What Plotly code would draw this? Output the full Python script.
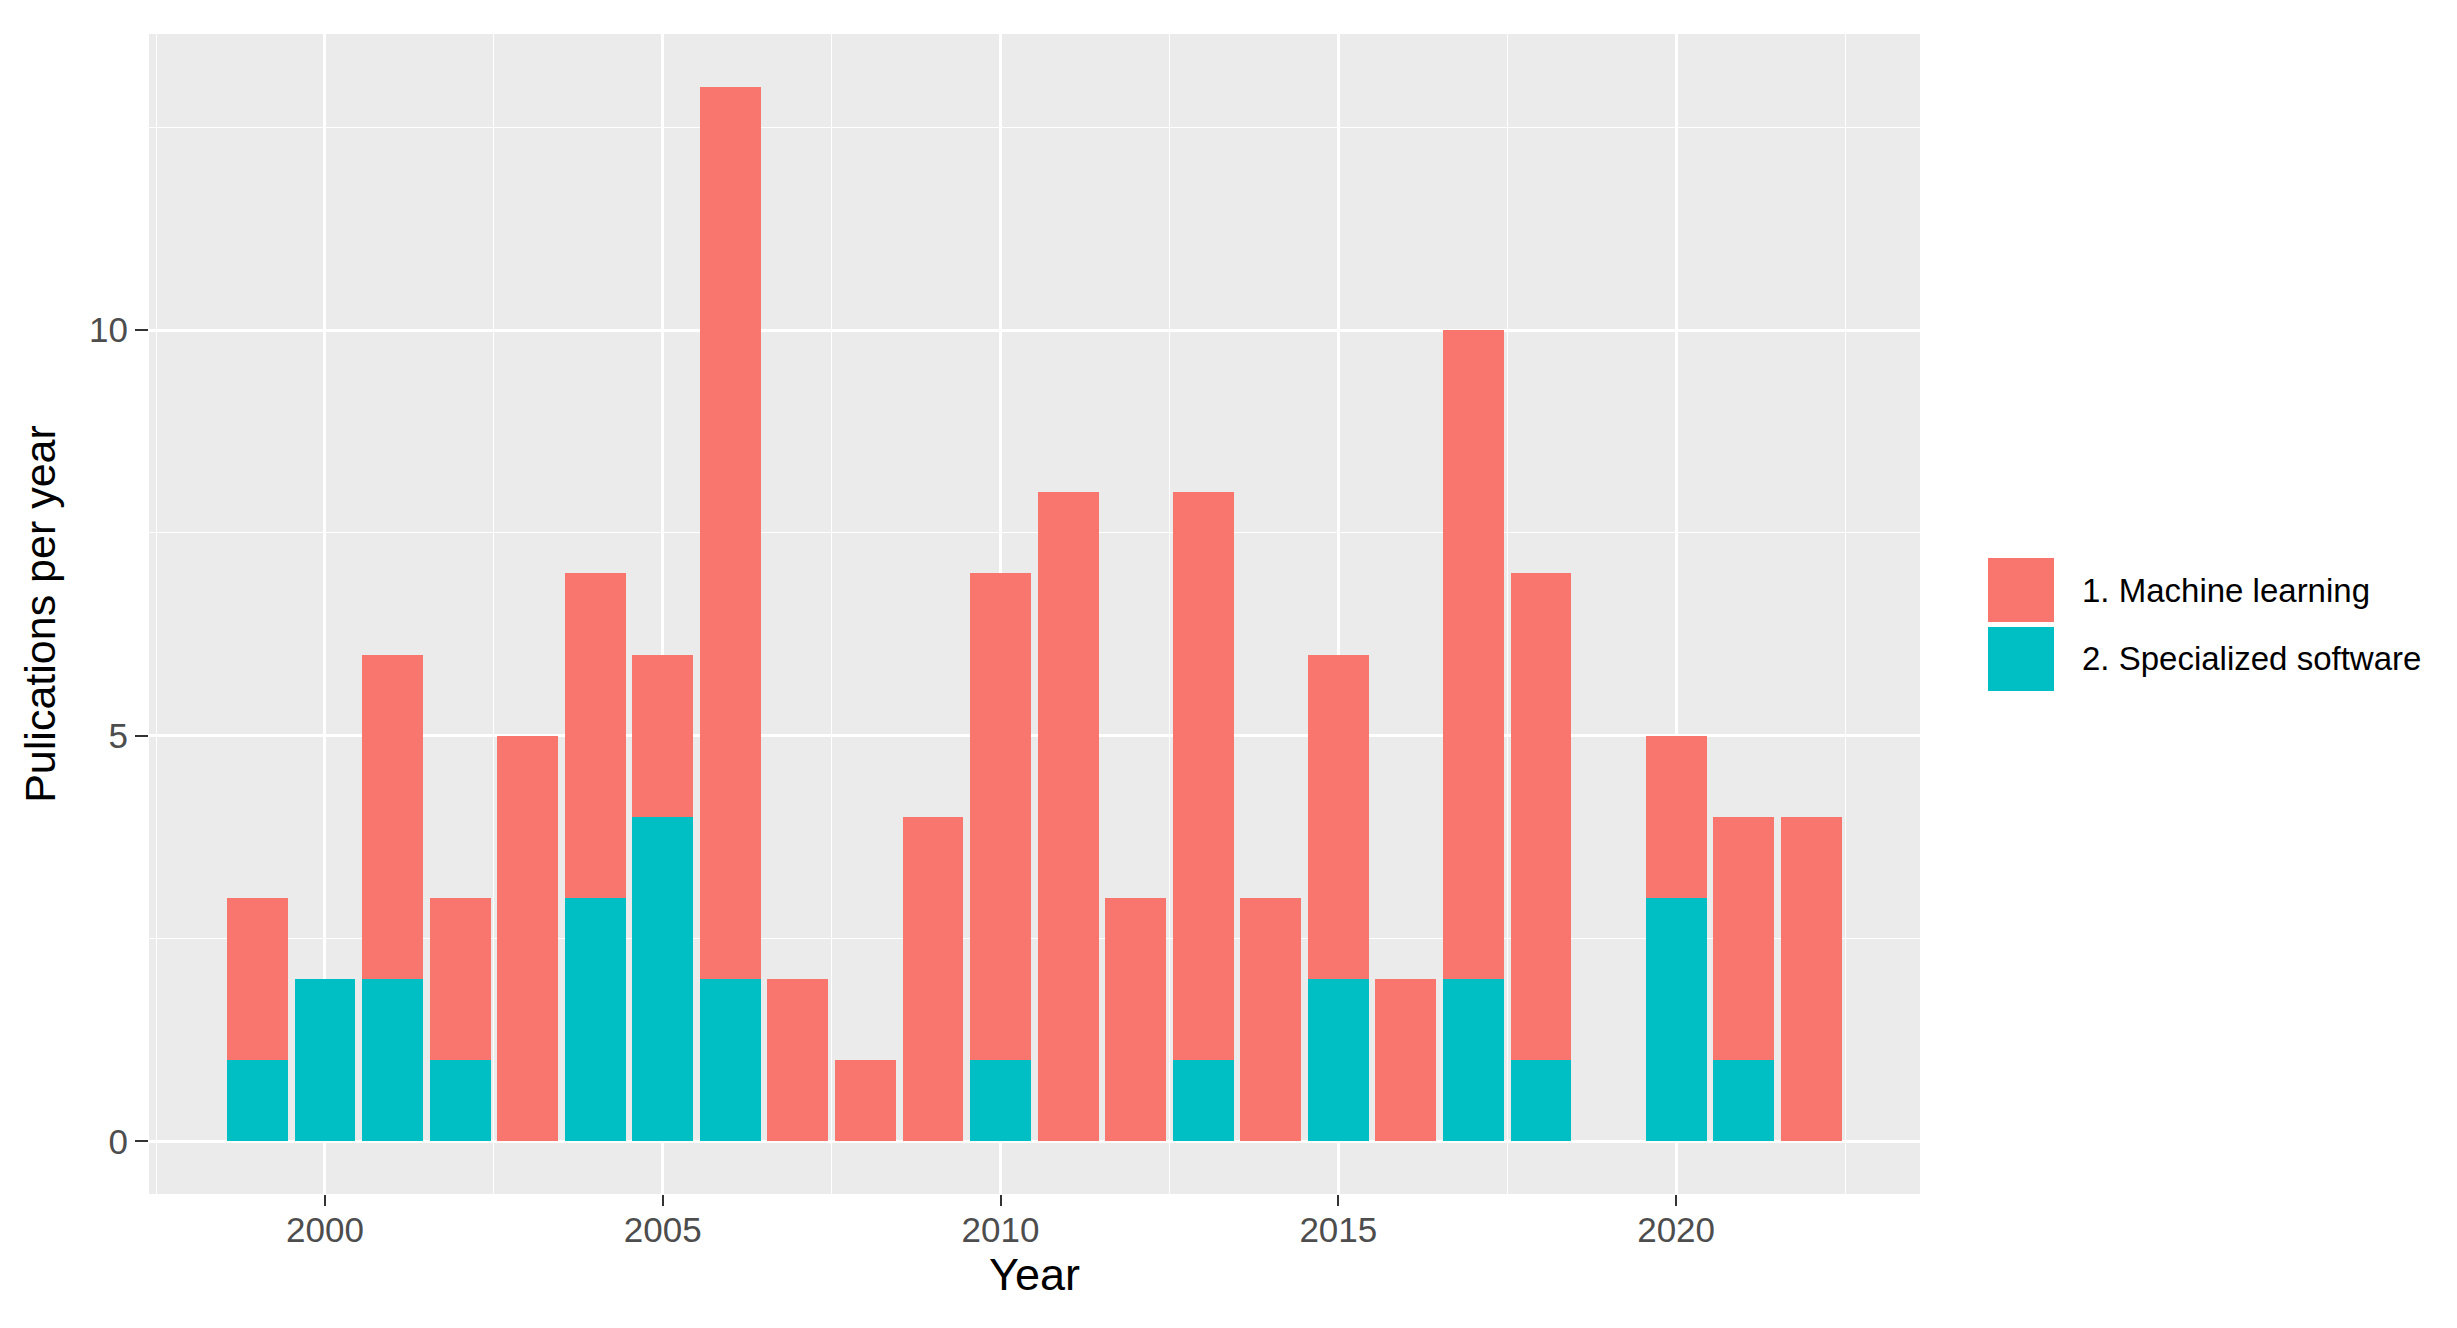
import plotly.graph_objects as go

years = list(range(1999, 2023))
machine_learning = [2, 0, 4, 2, 5, 4, 2, 11, 2, 1, 4, 6, 8, 3, 7, 3, 4, 2, 8, 6, 0, 2, 3, 4]
specialized_software = [1, 2, 2, 1, 0, 3, 4, 2, 0, 0, 0, 1, 0, 0, 1, 0, 2, 0, 2, 1, 0, 3, 1, 0]
series_names = ["1. Machine learning", "2. Specialized software"]
colors = ["#F8766D", "#00BFC4"]

W, H = 2457, 1328
L, R, T, B = 141, 545, 26, 142

fig = go.Figure()
fig.add_trace(go.Bar(x=years, y=specialized_software, name=series_names[1],
                     marker=dict(color=colors[1], line=dict(width=0)), width=0.9))
fig.add_trace(go.Bar(x=years, y=machine_learning, name=series_names[0],
                     marker=dict(color=colors[0], line=dict(width=0)), width=0.9))

font_family = "Liberation Sans, Arial, sans-serif"

fig.update_layout(
    width=W, height=H,
    margin=dict(l=L, r=R, t=T, b=B, pad=0),
    barmode="stack",
    showlegend=False,
    paper_bgcolor="white",
    plot_bgcolor="#EBEBEB",
    font=dict(family=font_family, size=34, color="#4D4D4D"),
    xaxis=dict(
        range=[1997.395, 2023.61],
        tickmode="linear", tick0=2000, dtick=5,
        showgrid=True, gridcolor="white", gridwidth=2.5,
        minor=dict(tick0=2000, dtick=2.5, showgrid=True, gridcolor="white", gridwidth=1.2),
        ticks="outside", ticklen=11, tickwidth=2, tickcolor="#333333",
        ticklabelstandoff=-6,
        tickfont=dict(size=35, color="#4D4D4D"),
        zeroline=False, showline=False,
        title=dict(text="Year", font=dict(size=45, color="black"), standoff=10),
    ),
    yaxis=dict(
        range=[-0.65, 13.65],
        tickmode="linear", tick0=0, dtick=5,
        showgrid=True, gridcolor="white", gridwidth=2.5,
        minor=dict(tick0=0, dtick=2.5, showgrid=True, gridcolor="white", gridwidth=1.2),
        ticks="outside", ticklen=13, tickwidth=2, tickcolor="#333333",
        tickfont=dict(size=35, color="#4D4D4D"),
        zeroline=False, showline=False,
        title=dict(text="Pulications per year", font=dict(size=43, color="black"), standoff=20),
    ),
)

# Legend drawn as keys + labels (ggplot-style large keys)
key_x0, key_x1 = 1980, 2046
key_rows = [(550, 614), (619, 683)]
legend_order = [0, 1]
for i, (y0, y1) in zip(legend_order, key_rows):
    fig.add_shape(type="rect", xref="paper", yref="paper",
                  x0=(key_x0 - L) / (W - L - R), x1=(key_x1 - L) / (W - L - R),
                  y0=(H - B - y1) / (H - T - B), y1=(H - B - y0) / (H - T - B),
                  fillcolor=colors[i], line=dict(width=0), layer="above")
    fig.add_annotation(xref="paper", yref="paper",
                       x=(2072 - L) / (W - L - R), y=(H - B - (y0 + y1) / 2) / (H - T - B),
                       xanchor="left", yanchor="middle", showarrow=False,
                       text=series_names[i], font=dict(size=33, color="black", family=font_family))

fig.write_html("out.html")
